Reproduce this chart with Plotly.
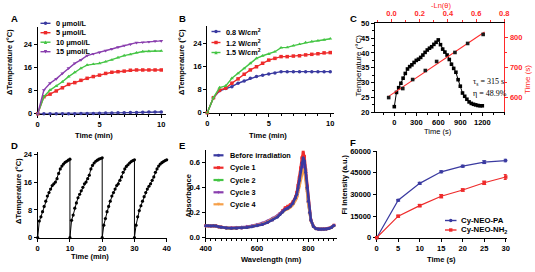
import plotly.graph_objects as go
import numpy as np

W, H = 535, 272
def px(x): return x / W
def py(y): return 1 - y / H

FONT = "Liberation Sans"
BLUE = "#3a3aa0"
RED = "#ee2b2b"
GREEN = "#45c545"
PURPLE = "#8a3fae"
ORANGE = "#f6a04a"

# ---------------- data ----------------
# Panel A: concentration series, time (min)
tA = [0, 0.5, 1, 1.5, 2, 2.5, 3, 3.5, 4, 4.5, 5, 5.5, 6, 6.5, 7, 7.5, 8, 8.5, 9, 9.5, 10]
A_0 = [0, 0, 0, 0, 0, 0, 0, 0.05, 0.1, 0.1, 0.15, 0.2, 0.25, 0.3, 0.35, 0.4, 0.45, 0.5, 0.55, 0.6, 0.6]
A_0_err = [0, 0, 0, 0, 0, 0, 0, 0.05, 0.1, 0.15, 0.2, 0.2, 0.25, 0.3, 0.3, 0.3, 0.35, 0.35, 0.35, 0.35, 0.35]
A_5 = [0, 5.9, 6.8, 7.9, 9.0, 10.2, 10.8, 11.6, 12.3, 12.9, 13.4, 14.0, 14.4, 14.6, 14.8, 15.1, 15.2, 15.2, 15.2, 15.2, 15.2]
A_10 = [0, 5.9, 8.2, 9.6, 11.1, 12.9, 14.4, 15.8, 16.9, 17.2, 17.5, 18.1, 18.7, 19.5, 20.2, 20.6, 21.2, 21.6, 21.7, 21.8, 21.8]
A_15 = [0, 8.2, 10.6, 12.1, 14.0, 15.8, 17.5, 18.7, 20.2, 20.8, 21.3, 21.9, 22.5, 23.1, 23.7, 24.1, 24.7, 24.8, 25.0, 25.2, 25.3]
A_names = ["0 μmol/L", "5 μmol/L", "10 μmol/L", "15 μmol/L"]

# Panel B: power density series
tB = tA
B_08 = [0, 5.2, 7.6, 8.4, 9.0, 10.2, 11.0, 11.9, 12.5, 13.0, 13.4, 13.7, 14.2, 14.2, 14.2, 14.2, 14.2, 14.2, 14.2, 14.2, 14.2]
B_12 = [0, 5.2, 7.8, 8.5, 10.2, 11.7, 13.3, 14.8, 15.9, 17.1, 18.2, 18.8, 19.4, 19.4, 19.6, 19.7, 20.0, 20.2, 20.4, 20.7, 20.8]
B_15 = [0, 5.2, 8.7, 9.3, 11.9, 13.6, 15.3, 17.1, 18.8, 19.7, 20.3, 21.1, 22.5, 22.6, 23.2, 23.7, 24.3, 24.6, 24.9, 25.2, 25.6]
B_names = ["0.8 W/cm<sup>2</sup>", "1.2 W/cm<sup>2</sup>", "1.5 W/cm<sup>2</sup>"]

# Panel C: heating / cooling curve and linear fit data
tC = [0, 30, 60, 90, 120, 150, 180, 210, 240, 270, 300, 330, 360, 390, 420, 450, 480, 510, 540, 570, 600,
      630, 660, 690, 720, 750, 780, 810, 840, 870, 900, 930, 960, 990, 1020, 1050, 1080, 1110, 1140, 1170, 1200]
TC = [21.9, 26.7, 28.3, 29.8, 31.5, 33.1, 34.6, 35.4, 36.0, 36.8, 37.5, 37.9, 38.5, 39.3, 40.2, 41.0, 41.6, 42.1, 42.9, 43.6, 44.4,
      42.8, 41.3, 40.3, 39.3, 37.8, 36.2, 34.8, 33.5, 31.0, 28.8, 26.5, 25.4, 24.4, 23.5, 23.0, 22.7, 22.5, 22.3, 22.2, 22.2]
lnC = [-0.02, 0.08, 0.15, 0.24, 0.32, 0.45, 0.54, 0.65]
timeC = [600, 630, 660, 690, 720, 750, 780, 810]

# Panel D: four heating cycles
tD = [0, 0.5, 1, 1.5, 2, 2.5, 3, 3.5, 4, 4.5, 5, 5.5, 6, 6.5, 7, 7.5, 8, 8.5, 9, 9.5, 10]
cycle_start = [0, 10, 20, 30]
D_cycles = [
    [0, 4.8, 6.0, 7.5, 9.0, 10.5, 12.0, 13.0, 14.0, 15.0, 15.5, 16.0, 17.0, 18.5, 19.8, 20.6, 21.2, 21.7, 22.0, 22.3, 22.6],
    [0, 5.0, 6.5, 8.5, 10.0, 11.5, 12.5, 13.5, 14.5, 15.5, 16.0, 17.0, 18.0, 19.8, 20.8, 21.5, 22.0, 22.3, 22.6, 22.8, 23.0],
    [0, 3.6, 5.5, 7.5, 9.0, 10.5, 12.0, 13.0, 14.0, 15.0, 15.5, 16.5, 17.5, 18.8, 19.8, 20.5, 21.0, 21.5, 21.9, 22.2, 22.4],
    [0, 3.6, 6.0, 7.8, 9.2, 10.5, 11.8, 13.0, 14.0, 14.8, 15.5, 16.5, 17.5, 18.8, 19.8, 20.6, 21.2, 21.6, 21.9, 22.2, 22.4],
]

# Panel E: absorbance spectra
wl = [400, 410, 420, 430, 440, 450, 460, 480, 500, 520, 540, 560, 580, 600, 620, 640, 660, 680, 690, 700, 710, 720,
      730, 740, 750, 755, 760, 765, 770, 775, 780, 785, 790, 795, 800, 805, 810, 820, 830, 840, 850, 860, 870, 880, 890, 900]
E_before = [0.095, 0.095, 0.094, 0.095, 0.093, 0.087, 0.083, 0.078, 0.075, 0.076, 0.078, 0.082, 0.088, 0.095, 0.105, 0.120, 0.140,
            0.165, 0.185, 0.205, 0.225, 0.235, 0.250, 0.275, 0.315, 0.345, 0.395, 0.455, 0.525, 0.595, 0.635, 0.610, 0.520, 0.400,
            0.290, 0.200, 0.140, 0.090, 0.072, 0.068, 0.067, 0.068, 0.070, 0.074, 0.082, 0.098]
E_c1 = [0.096, 0.096, 0.095, 0.096, 0.094, 0.088, 0.084, 0.079, 0.076, 0.077, 0.079, 0.083, 0.089, 0.097, 0.107, 0.122, 0.143,
        0.170, 0.192, 0.215, 0.238, 0.250, 0.262, 0.285, 0.325, 0.360, 0.415, 0.480, 0.555, 0.635, 0.680, 0.645, 0.540, 0.410,
        0.295, 0.205, 0.142, 0.091, 0.073, 0.069, 0.068, 0.069, 0.071, 0.075, 0.083, 0.099]
E_c2 = [0.095, 0.095, 0.094, 0.095, 0.093, 0.087, 0.083, 0.078, 0.075, 0.076, 0.079, 0.083, 0.090, 0.098, 0.108, 0.124, 0.145,
        0.168, 0.186, 0.205, 0.224, 0.233, 0.247, 0.270, 0.308, 0.337, 0.385, 0.440, 0.510, 0.575, 0.615, 0.590, 0.505, 0.392,
        0.285, 0.198, 0.139, 0.090, 0.072, 0.068, 0.067, 0.068, 0.070, 0.074, 0.082, 0.097]
E_c3 = [0.094, 0.094, 0.093, 0.094, 0.092, 0.086, 0.083, 0.079, 0.077, 0.079, 0.082, 0.087, 0.094, 0.103, 0.115, 0.132, 0.153,
        0.176, 0.193, 0.210, 0.226, 0.234, 0.246, 0.268, 0.303, 0.330, 0.377, 0.430, 0.497, 0.560, 0.600, 0.578, 0.497, 0.387,
        0.282, 0.197, 0.138, 0.090, 0.072, 0.068, 0.067, 0.068, 0.070, 0.074, 0.082, 0.097]
E_c4 = [0.094, 0.094, 0.093, 0.094, 0.092, 0.086, 0.082, 0.078, 0.075, 0.076, 0.079, 0.083, 0.090, 0.098, 0.109, 0.125, 0.146,
        0.169, 0.186, 0.203, 0.220, 0.228, 0.240, 0.260, 0.292, 0.316, 0.357, 0.405, 0.465, 0.520, 0.545, 0.528, 0.460, 0.365,
        0.270, 0.190, 0.134, 0.089, 0.071, 0.067, 0.066, 0.067, 0.069, 0.073, 0.081, 0.096]
E_names = ["Before irradiation", "Cycle 1", "Cycle 2", "Cycle 3", "Cycle 4"]

# Panel F: fluorescence intensity
tF = [0, 5, 10, 15, 20, 25, 30]
F_PA = [0, 25900, 37600, 45600, 49500, 52300, 53400]
F_PA_err = [0, 600, 700, 700, 700, 1000, 900]
F_NH2 = [0, 14900, 22200, 28700, 33000, 38000, 42000]
F_NH2_err = [0, 600, 800, 1200, 800, 1200, 1700]
F_names = ["Cy-NEO-PA", "Cy-NEO-NH<sub>2</sub>"]

# ---------------- figure ----------------
fig = go.Figure()
TICKFONT = dict(family=FONT, size=7.5, color="black", weight="bold")

def ax(domain, rng, **kw):
    d = dict(range=rng, showline=True, linecolor="black", linewidth=1.3,
             ticks="outside", ticklen=3, tickwidth=1.2, tickcolor="black", showgrid=False,
             zeroline=False, tickfont=TICKFONT, fixedrange=True, layer="below traces",
             tickangle=0, automargin=False)
    if domain is not None:
        d["domain"] = domain
    d.update(kw)
    return d

def line_trace(x, y, color, symbol, xa, ya, size=3.5, width=1.4, **kw):
    fig.add_trace(go.Scatter(x=x, y=y, mode="lines+markers", xaxis=xa, yaxis=ya, cliponaxis=False,
                             line=dict(color=color, width=width),
                             marker=dict(color=color, symbol=symbol, size=size, line=dict(width=0)),
                             showlegend=False, **kw))

# A
fig.add_trace(go.Scatter(x=tA, y=A_0, mode="markers", xaxis="x", yaxis="y", cliponaxis=False,
                         marker=dict(size=0.1, color="rgba(0,0,0,0)"),
                         error_y=dict(type="data", array=A_0_err, color="#9a9a9a", thickness=3, width=0),
                         showlegend=False, hoverinfo="skip"))
for vals, col, sym in zip([A_0, A_5, A_10, A_15], [BLUE, RED, GREEN, PURPLE],
                          ["circle", "square", "triangle-up", "triangle-down"]):
    line_trace(tA, vals, col, sym, "x", "y")
# B
for vals, col, sym in zip([B_08, B_12, B_15], [BLUE, RED, GREEN], ["circle", "square", "triangle-up"]):
    line_trace(tB, vals, col, sym, "x2", "y2")
# C
fig.add_trace(go.Scatter(x=tC, y=TC, mode="lines+markers", xaxis="x3", yaxis="y3", cliponaxis=False,
                         line=dict(color="black", width=1), marker=dict(color="black", symbol="square", size=3.6),
                         showlegend=False))
slope, icpt = np.polyfit(lnC, timeC, 1)
fit_x = [min(lnC), max(lnC) + 0.01]
fig.add_trace(go.Scatter(x=fit_x, y=[slope * v + icpt for v in fit_x], mode="lines", xaxis="x4", yaxis="y4",
                         line=dict(color="#ff2a2a", width=1.1), showlegend=False, cliponaxis=False))
fig.add_trace(go.Scatter(x=lnC, y=timeC, mode="markers", xaxis="x4", yaxis="y4", cliponaxis=False,
                         marker=dict(color="#1a1a1a", symbol="square", size=3.6), showlegend=False))
# D
Dx, Dy = [], []
for start, vals in zip(cycle_start, D_cycles):
    Dx += [start + t for t in tD]
    Dy += vals
fig.add_trace(go.Scatter(x=Dx, y=Dy, mode="lines+markers", xaxis="x5", yaxis="y5", cliponaxis=False,
                         line=dict(color="black", width=1), marker=dict(color="black", size=3.2),
                         showlegend=False))
# E
E_series = [E_before, E_c1, E_c2, E_c3, E_c4]
E_cols = [BLUE, RED, GREEN, PURPLE, ORANGE]
E_syms = ["circle", "square", "triangle-up", "diamond", "triangle-down"]
for i in [1, 2, 3, 4, 0]:
    line_trace(wl, E_series[i], E_cols[i], E_syms[i], "x6", "y6", size=3, width=2.6)
# F
fig.add_trace(go.Scatter(x=tF, y=F_PA, mode="lines+markers", xaxis="x7", yaxis="y7", cliponaxis=False,
                         line=dict(color=BLUE, width=1.2), marker=dict(color=BLUE, size=3.5),
                         error_y=dict(type="data", array=F_PA_err, color=BLUE, thickness=1, width=2),
                         showlegend=False))
fig.add_trace(go.Scatter(x=tF, y=F_NH2, mode="lines+markers", xaxis="x7", yaxis="y7", cliponaxis=False,
                         line=dict(color=RED, width=1.2), marker=dict(color=RED, symbol="square", size=3.5),
                         error_y=dict(type="data", array=F_NH2_err, color=RED, thickness=1, width=2),
                         showlegend=False))

minor1 = dict(ticks="outside", ticklen=2, tickwidth=1, tickcolor="black", dtick=1)
RED_AX = "#ff2a2a"
redfont = dict(family=FONT, size=7.5, color=RED_AX, weight="bold")
fig.update_layout(
    width=W, height=H, margin=dict(l=0, r=0, t=0, b=0),
    paper_bgcolor="white", plot_bgcolor="rgba(0,0,0,0)",
    xaxis=ax([px(37.7), px(165.7)], [0, 10.36], anchor="y", tickvals=[0, 5, 10], minor=minor1),
    yaxis=ax([py(113.7), py(27.4)], [0, 30], anchor="x", tickvals=[0, 8, 16, 24]),
    xaxis2=ax([px(207.3), px(334.3)], [0, 10.33], anchor="y2", tickvals=[0, 5, 10], minor=minor1),
    yaxis2=ax([py(112.7), py(26.0)], [0, 30], anchor="x2", tickvals=[0, 8, 16, 24]),
    xaxis3=ax([px(375), px(504.3)], [-263, 1500], anchor="y3", tickvals=[0, 300, 600, 900, 1200],
              minor=dict(ticks="outside", ticklen=2, tickwidth=1, tickcolor="black", dtick=150)),
    yaxis3=ax([py(112.3), py(23.3)], [20, 50], anchor="x3", dtick=5,
              minor=dict(ticks="outside", ticklen=2, tickwidth=1, tickcolor="black", dtick=2.5)),
    xaxis4=ax(None, [-0.117, 0.8], overlaying="x3", side="top", anchor="y3", dtick=0.2, tick0=0,
              tickformat=".1f", tickfont=redfont, tickcolor=RED_AX, linecolor="black",
              minor=dict(ticks="outside", ticklen=2, tickwidth=1, tickcolor=RED_AX, dtick=0.1)),
    yaxis4=ax(None, [551, 847], overlaying="y3", side="right", anchor="x3", tickvals=[600, 700, 800],
              tickfont=redfont, tickcolor=RED_AX, linecolor=RED_AX,
              minor=dict(ticks="outside", ticklen=2, tickwidth=1, tickcolor=RED_AX, dtick=50)),
    xaxis5=ax([px(37.7), px(166.7)], [0, 40], anchor="y5", dtick=10),
    yaxis5=ax([py(237.7), py(151.7)], [0, 24.75], anchor="x5", tickvals=[0, 8, 16, 24]),
    xaxis6=ax([px(205.7), px(337.3)], [400, 913], anchor="y6", tickvals=[400, 600, 800],
              minor=dict(ticks="outside", ticklen=2, tickwidth=1, tickcolor="black", dtick=20)),
    yaxis6=ax([py(237.7), py(149.7)], [0, 0.7], anchor="x6", tickvals=[0, 0.2, 0.4, 0.6], tickformat=".1f"),
    xaxis7=ax([px(376.7), px(506.7)], [0, 30.23], anchor="y7", dtick=5),
    yaxis7=ax([py(237.7), py(151)], [0, 60000], anchor="x7", tickvals=[0, 15000, 30000, 45000, 60000],
              tickformat="d"),
)

annotations = []
shapes = []

def text(x, y, s, size=7.5, color="black", angle=0, xanchor="center", family=FONT, bold=True):
    if bold:
        s = "<b>" + s + "</b>"
    annotations.append(dict(x=px(x), y=py(y), xref="paper", yref="paper", text=s, showarrow=False,
                            textangle=angle, xanchor=xanchor, yanchor="middle", borderpad=0,
                            font=dict(family=family, size=size, color=color)))

def key(x0, x1, y, color, sym, label, tx, size=3.4, lw=1.4, fsize=7.3):
    shapes.append(dict(type="line", xref="paper", yref="paper", x0=px(x0), x1=px(x1), y0=py(y), y1=py(y),
                       line=dict(color=color, width=lw)))
    cx = (x0 + x1) / 2
    h = size / 2
    if sym == "square":
        shapes.append(dict(type="rect", xref="paper", yref="paper", x0=px(cx - h), x1=px(cx + h),
                           y0=py(y + h), y1=py(y - h), fillcolor=color, line=dict(width=0)))
    elif sym == "circle":
        shapes.append(dict(type="circle", xref="paper", yref="paper", x0=px(cx - h), x1=px(cx + h),
                           y0=py(y + h), y1=py(y - h), fillcolor=color, line=dict(width=0)))
    else:
        if sym == "triangle-up":
            pts = [(cx - h, y + h), (cx + h, y + h), (cx, y - h)]
        elif sym == "triangle-down":
            pts = [(cx - h, y - h), (cx + h, y - h), (cx, y + h)]
        else:
            pts = [(cx - h, y), (cx, y - h), (cx + h, y), (cx, y + h)]
        path = "M " + " L ".join(f"{px(a):.5f},{py(b):.5f}" for a, b in pts) + " Z"
        shapes.append(dict(type="path", xref="paper", yref="paper", path=path, fillcolor=color,
                           line=dict(width=0)))
    text(tx, y, label, size=fsize, xanchor="left")

# panel letters
for L, x, y in [("A", 14, 19), ("B", 182.5, 19), ("C", 353, 19), ("D", 14, 145.7), ("E", 182, 145.7), ("F", 352.5, 142.5)]:
    text(x, y, L, size=9.5)

# axis titles
text(10, 62, "ΔTemperature (°C)", angle=-90)
text(93.5, 135, "Time (min)")
text(182, 62, "ΔTemperature (°C)", angle=-90)
text(268, 135, "Time (min)")
text(357.5, 66, "Temperature (°C)", angle=-90, bold=False, size=8)
text(527, 80, "Time (s)", angle=-90, color=RED_AX, bold=False, size=8)
text(441, 5.2, "-Ln(θ)", color=RED_AX, bold=False, size=7.5)
text(438.5, 131, "Time (s)", bold=False, size=7.5)
text(18.5, 191.5, "ΔTemperature (°C)", angle=-90)
text(90, 256.5, "Time (min)")
text(187.5, 196, "Absorbance", angle=-90)
text(271.5, 259, "Wavelength (nm)")
text(343.5, 185, "FI Intensity (a.u.)", angle=-90)
text(441.5, 259, "Time (s)")

# C annotation
text(472, 82.5, "τ<sub>s</sub> = 315 s", family="Liberation Serif", bold=False, size=8, xanchor="left")
text(472, 93.5, "η = 48.9%", family="Liberation Serif", bold=False, size=8, xanchor="left")

# legends
for (name, col, sym), y in zip(zip(A_names, [BLUE, RED, GREEN, PURPLE],
                                    ["circle", "square", "triangle-up", "triangle-down"]), [23.3, 32.7, 42.2, 51.7]):
    key(40.5, 50.5, y, col, sym, name, 54.5)
for (name, col, sym), y in zip(zip(B_names, [BLUE, RED, GREEN], ["circle", "square", "triangle-up"]),
                               [31.5, 42.5, 52.5]):
    key(211.5, 220.5, y, col, sym, name, 224.5)
for (name, col, sym), y in zip(zip(E_names, E_cols, E_syms), [155.3, 167.7, 180, 192.3, 204.3]):
    key(213.5, 223.5, y, col, sym, name, 228.5, lw=2.2, size=3)
for (name, col, sym), y in zip(zip(F_names, [BLUE, RED], ["circle", "square"]), [220.5, 230]):
    key(445, 456.5, y, col, sym, name, 459.5, fsize=7.8)

fig.update_layout(annotations=annotations, shapes=shapes)
fig.write_html("out.html", config={"displayModeBar": False},
               post_script="document.body.style.margin='0';document.body.style.padding='0';")
